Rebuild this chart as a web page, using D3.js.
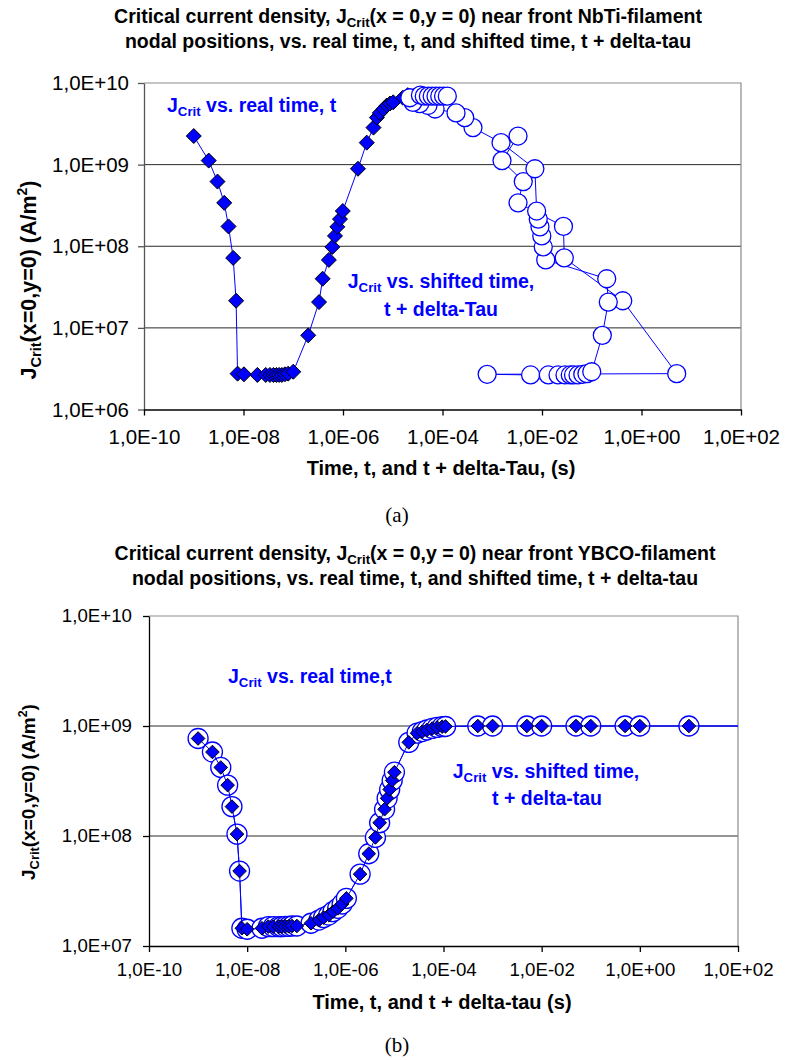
<!DOCTYPE html>
<html>
<head>
<meta charset="utf-8">
<script src="https://cdn.jsdelivr.net/npm/d3@7"></script>
<style>
  body { margin: 0; background: #fff; }
  svg { display: block; font-family: "Liberation Sans", Arial, sans-serif; }
  .tick text { font-family: "Liberation Sans", Arial, sans-serif; }
</style>
</head>
<body>
<svg width="792" height="1060"></svg>
<script>
// ---- data ----
var xTickValues = [1e-10, 1e-8, 1e-6, 1e-4, 1e-2, 1e0, 1e2];
var yTicksA = [1e6, 1e7, 1e8, 1e9, 1e10];
var yTicksB = [1e7, 1e8, 1e9, 1e10];

// (a) NbTi: real time t, shifted time t + delta-Tau, both share J values
var realTimeA = [1e-9, 2.0e-9, 3.0e-9, 4.1e-9, 5.0e-9, 6.2e-9, 7.1e-9, 7.6e-9, 1.02e-8, 1.9e-8,
  2.8e-8, 3.4e-8, 4.0e-8, 4.6e-8, 5.2e-8, 5.9e-8, 6.8e-8, 7.9e-8, 1.0e-7, 2.0e-7,
  3.3e-7, 3.9e-7, 5.2e-7, 6.1e-7, 6.9e-7, 7.7e-7, 8.7e-7, 9.9e-7, 2.0e-6, 3.0e-6,
  4.1e-6, 4.8e-6, 5.5e-6, 6.5e-6, 7.6e-6, 8.8e-6, 1.02e-5, 1.6e-5, 2.0e-5, 2.6e-5,
  3.3e-5, 4.1e-5, 5.0e-5, 6.0e-5, 7.2e-5, 8.5e-5];
var shiftedTimeA = [3.3e-3, 1.57e-3, 4.2e-3, 3.3e-3, 2.7e-2, 2.8e-2, 0.42, 5.1, 7.9e-4, 5.9e-3,
  1.34e-2, 2.1e-2, 2.9e-2, 3.7e-2, 4.3e-2, 5.3e-2, 6.6e-2, 8.0e-2, 0.1, 0.163,
  0.215, 0.2, 1.19e-2, 1.06e-2, 9.9e-3, 9.1e-3, 8.4e-3, 7.8e-3, 7.2e-3, 1.5e-3,
  4.1e-4, 2.8e-4, 1.87e-4, 7.1e-5, 5.1e-5, 3.5e-5, 2.55e-5, 2.2e-5, 3.6e-5, 4.3e-5,
  5.2e-5, 6.2e-5, 7.4e-5, 8.8e-5, 1.05e-4, 1.25e-4];
var jCritA = [2.24e9, 1.12e9, 6.2e8, 3.4e8, 1.75e8, 7.2e7, 2.15e7, 2.75e6, 2.7e6, 2.65e6,
  2.65e6, 2.65e6, 2.65e6, 2.65e6, 2.65e6, 2.65e6, 2.7e6, 2.75e6, 2.9e6, 8.1e6,
  2.07e7, 4.0e7, 6.8e7, 9.8e7, 1.34e8, 1.73e8, 2.15e8, 2.7e8, 8.9e8, 1.86e9,
  2.84e9, 3.77e9, 4.3e9, 4.8e9, 5.3e9, 5.6e9, 5.8e9, 6.6e9, 7.1e9, 6.9e9,
  6.9e9, 6.9e9, 6.9e9, 6.9e9, 6.9e9, 6.9e9];

// (b) YBCO: shifted time equals real time, both series on the same points
var timeB = [1e-9, 1.96e-9, 2.9e-9, 4.0e-9, 4.9e-9, 6.2e-9, 7.0e-9, 7.8e-9, 1.0e-8, 2.0e-8,
  2.7e-8, 3.4e-8, 4.4e-8, 5.1e-8, 6.0e-8, 7.0e-8, 8.2e-8, 1.03e-7, 2.0e-7, 2.9e-7,
  3.6e-7, 4.6e-7, 5.6e-7, 7.0e-7, 8.6e-7, 1.05e-6, 2.0e-6, 3.0e-6, 4.1e-6, 5.0e-6,
  6.3e-6, 7.1e-6, 8.0e-6, 9.0e-6, 1.0e-5, 1.96e-5, 2.9e-5, 3.7e-5, 4.6e-5, 5.9e-5,
  7.4e-5, 9.4e-5, 1.1e-4, 5e-4, 1e-3, 5e-3, 1e-2, 5e-2, 1e-1, 5e-1,
  1, 10, 1000];
var jCritB = [7.7e8, 5.8e8, 4.2e8, 2.9e8, 1.85e8, 1.04e8, 4.8e7, 1.45e7, 1.42e7, 1.45e7,
  1.5e7, 1.5e7, 1.5e7, 1.5e7, 1.51e7, 1.51e7, 1.52e7, 1.52e7, 1.61e7, 1.72e7,
  1.81e7, 1.91e7, 2.05e7, 2.2e7, 2.41e7, 2.71e7, 4.5e7, 6.9e7, 9.7e7, 1.32e8,
  1.75e8, 2.2e8, 2.65e8, 3.2e8, 3.8e8, 7.1e8, 8.6e8, 8.9e8, 9.2e8, 9.5e8,
  9.7e8, 9.86e8, 9.9e8, 1e9, 1e9, 1e9, 1e9, 1e9, 1e9, 1e9,
  1e9, 1e9, 1e9];

var BLUE = "#0000ff";
var svg = d3.select("svg");

function fmtE(v) {
  var e = Math.round(Math.log10(v));
  return "1,0E" + (e < 0 ? "-" : "+") + String(Math.abs(e)).padStart(2, "0");
}

// J + subscript Crit + rest of the text
function jText(sel, rest, size) {
  sel.append("tspan").text("J");
  sel.append("tspan").attr("font-size", size * 0.68).attr("dy", size * 0.22).text("Crit");
  sel.append("tspan").attr("dy", -size * 0.22).text(rest);
}

function diamond(h) {
  return "M0," + (-h) + "L" + h + ",0L0," + h + "L" + (-h) + ",0Z";
}

function panel(p) {
  var g = svg.append("g");
  var x = d3.scaleLog().domain([1e-10, 1e2]).range([p.left, p.right]);
  var y = d3.scaleLog().domain(p.yDomain).range([p.bottom, p.top]);

  svg.append("clipPath").attr("id", "clip" + p.id)
    .append("rect")
    .attr("x", p.left).attr("y", p.top)
    .attr("width", p.right - p.left).attr("height", p.bottom - p.top);

  // grid lines
  g.selectAll("line.grid").data(p.yTicks.slice(1, -1)).enter()
    .append("line")
    .attr("x1", p.left).attr("x2", p.right)
    .attr("y1", function (d) { return y(d); })
    .attr("y2", function (d) { return y(d); })
    .attr("stroke", "#2a2a2a").attr("stroke-width", 1);

  // plot border (top / right)
  g.append("path")
    .attr("d", "M" + p.left + "," + p.top + "H" + p.right + "V" + p.bottom)
    .attr("fill", "none").attr("stroke", "#8c8c8c").attr("stroke-width", 1.2);

  // axes
  var ya = g.append("g").attr("transform", "translate(" + p.left + ",0)")
    .call(d3.axisLeft(y).tickValues(p.yTicks).tickFormat(fmtE).tickSize(6).tickSizeOuter(0));
  ya.attr("font-family", null);
  ya.selectAll("text").attr("x", -p.yLabelGap).attr("font-size", p.tickFont).attr("fill", "#000");
  ya.selectAll("line, path").attr("stroke", p.axisColor).attr("stroke-width", 1.3);

  var xa = g.append("g").attr("transform", "translate(0," + p.bottom + ")")
    .call(d3.axisBottom(x).tickValues(xTickValues).tickFormat(fmtE).tickSize(6).tickSizeOuter(0));
  xa.attr("font-family", null);
  xa.selectAll("text").attr("y", p.xLabelY).attr("dy", null).attr("font-size", p.tickFont).attr("fill", "#000");
  xa.selectAll("line, path").attr("stroke", "#000").attr("stroke-width", 1.3);

  // series
  p.series.forEach(function (s) {
    var pts = s.t.map(function (t, i) { return [t, s.j[i]]; });
    var sg = g.append("g").attr("clip-path", "url(#clip" + p.id + ")");
    sg.append("path").datum(pts)
      .attr("d", d3.line().x(function (d) { return x(d[0]); }).y(function (d) { return y(d[1]); }))
      .attr("fill", "none").attr("stroke", BLUE).attr("stroke-width", 1);
    if (s.marker === "diamond") {
      sg.selectAll("path.m").data(pts).enter().append("path")
        .attr("class", "m")
        .attr("transform", function (d) { return "translate(" + x(d[0]) + "," + y(d[1]) + ")"; })
        .attr("d", diamond(s.size))
        .attr("fill", BLUE).attr("stroke", "#000").attr("stroke-width", 1);
    } else {
      sg.selectAll("circle.m").data(pts).enter().append("circle")
        .attr("class", "m")
        .attr("cx", function (d) { return x(d[0]); })
        .attr("cy", function (d) { return y(d[1]); })
        .attr("r", s.size)
        .attr("fill", "#fff").attr("stroke", BLUE).attr("stroke-width", 1.3);
    }
  });

  // titles
  var t1 = svg.append("text").attr("x", p.titleX).attr("y", p.titleY)
    .attr("text-anchor", "middle").attr("font-weight", "bold").attr("font-size", p.titleFont);
  t1.append("tspan").text("Critical current density, ");
  jText(t1, "(x = 0,y = 0) near front " + p.material + "-filament", p.titleFont);
  svg.append("text").attr("x", p.titleX).attr("y", p.titleY + 25)
    .attr("text-anchor", "middle").attr("font-weight", "bold").attr("font-size", p.titleFont)
    .text("nodal positions, vs. real time, t, and shifted time, t + delta-tau");

  svg.append("text").attr("x", p.xTitleX).attr("y", p.xTitleY)
    .attr("text-anchor", "middle").attr("font-weight", "bold").attr("font-size", 20)
    .text(p.xTitle);

  var yt = svg.append("text")
    .attr("transform", "translate(" + p.yTitleX + "," + p.yTitleY + ") rotate(-90)")
    .attr("text-anchor", "middle").attr("font-weight", "bold").attr("font-size", p.yTitleFont);
  jText(yt, "(x=0,y=0) (A/m", p.yTitleFont);
  yt.append("tspan").attr("font-size", p.yTitleFont * 0.65).attr("dy", -p.yTitleFont * 0.4).text("2");
  yt.append("tspan").attr("dy", p.yTitleFont * 0.4).text(")");

  svg.append("text").attr("x", 397).attr("y", p.captionY)
    .attr("text-anchor", "middle").attr("font-family", "Liberation Serif, Times New Roman, serif")
    .attr("font-size", 21).text(p.caption);

  // in-plot notes
  p.notes.forEach(function (n) {
    var t = svg.append("text").attr("x", n.x).attr("y", n.y).attr("text-anchor", n.anchor)
      .attr("font-weight", "bold").attr("font-size", 19.5).attr("fill", BLUE);
    if (n.j) jText(t, n.text, 19.5); else t.text(n.text);
  });
}

panel({
  id: "a", left: 144, right: 741, top: 83, bottom: 409.5,
  yDomain: [1e6, 1e10], yTicks: yTicksA, axisColor: "#555",
  tickFont: 20.5, yLabelGap: 15, xLabelY: 34,
  titleX: 408, titleY: 23, titleFont: 19.5, material: "NbTi",
  xTitle: "Time, t, and t + delta-Tau, (s)", xTitleX: 441, xTitleY: 475,
  yTitleX: 36, yTitleY: 280, yTitleFont: 21.5,
  caption: "(a)", captionY: 522,
  series: [
    { t: realTimeA, j: jCritA, marker: "diamond", size: 7.5 },
    { t: shiftedTimeA, j: jCritA, marker: "circle", size: 9 }
  ],
  notes: [
    { x: 167, y: 112, anchor: "start", j: true, text: " vs. real time, t" },
    { x: 441, y: 288, anchor: "middle", j: true, text: " vs. shifted time," },
    { x: 441, y: 316, anchor: "middle", j: false, text: "t + delta-Tau" }
  ]
});

panel({
  id: "b", left: 149, right: 738, top: 616, bottom: 946,
  yDomain: [1e7, 1e10], yTicks: yTicksB, axisColor: "#000",
  tickFont: 18.7, yLabelGap: 17, xLabelY: 30,
  titleX: 415, titleY: 560, titleFont: 19.5, material: "YBCO",
  xTitle: "Time, t, and t + delta-tau (s)", xTitleX: 442, xTitleY: 1009,
  yTitleX: 35, yTitleY: 792, yTitleFont: 19,
  caption: "(b)", captionY: 1052,
  series: [
    { t: timeB, j: jCritB, marker: "circle", size: 10 },
    { t: timeB, j: jCritB, marker: "diamond", size: 6.8 }
  ],
  notes: [
    { x: 228, y: 683, anchor: "start", j: true, text: " vs. real time,t" },
    { x: 546, y: 778, anchor: "middle", j: true, text: " vs. shifted time," },
    { x: 547, y: 805, anchor: "middle", j: false, text: "t + delta-tau" }
  ]
});
</script>
</body>
</html>
